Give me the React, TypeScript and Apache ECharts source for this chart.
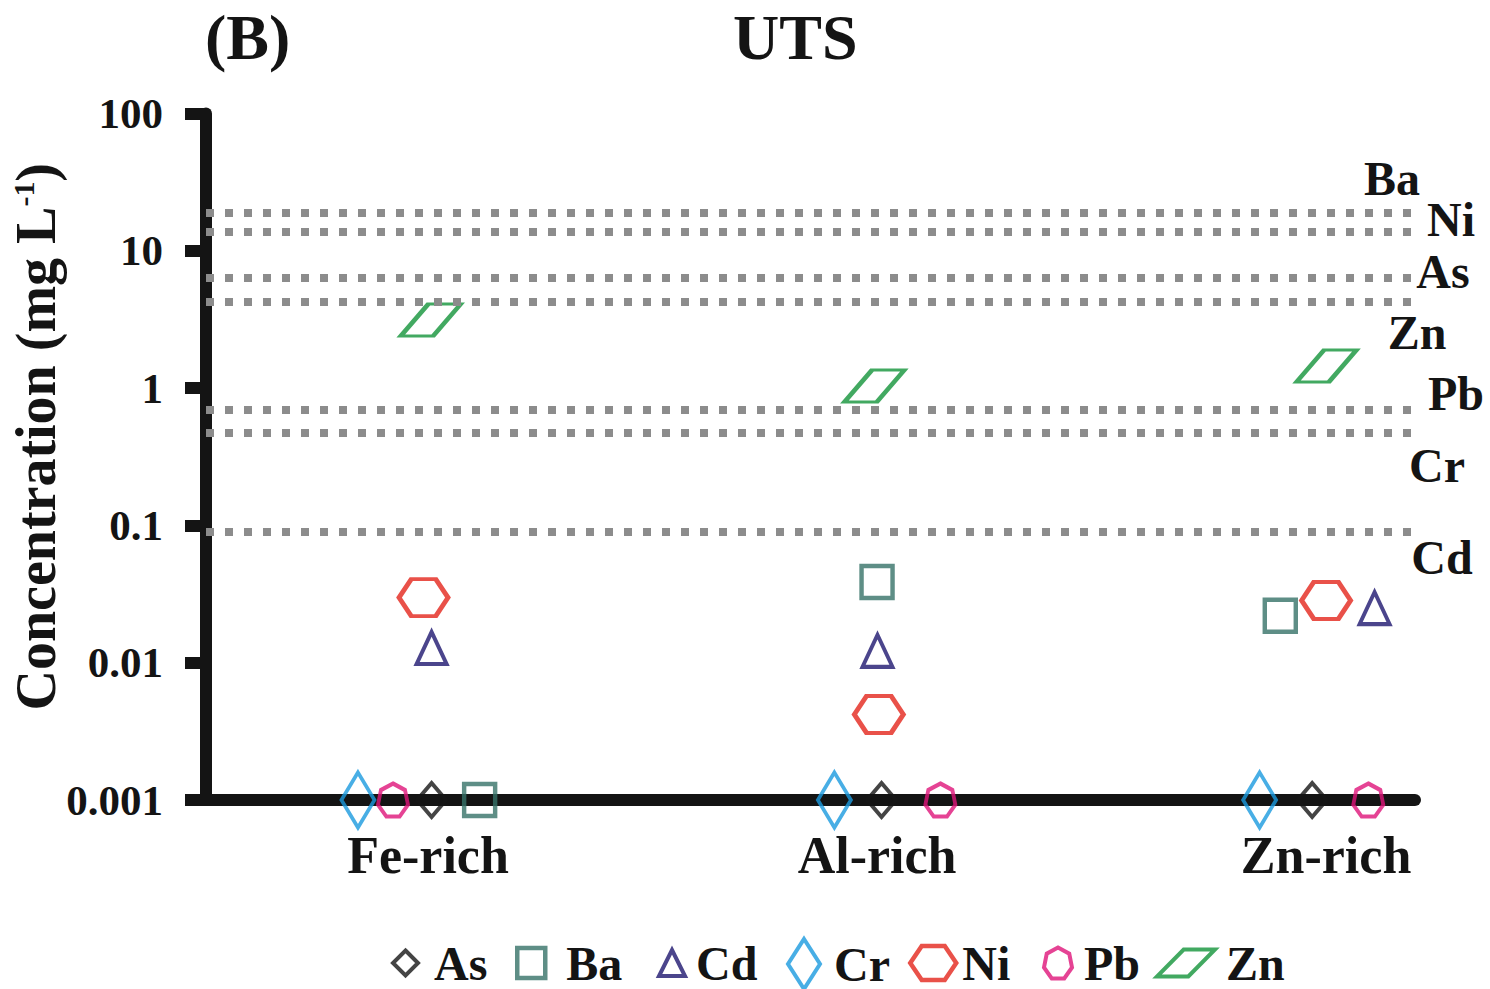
import React, { useEffect, useRef } from "react";
import * as echarts from "echarts";

const categories = ["Fe-rich", "Al-rich", "Zn-rich"];
const yTickLabels = ["0.001", "0.01", "0.1", "1", "10", "100"];

// concentrations (mg/L) per category: Fe-rich, Al-rich, Zn-rich
const asValues = [0.001, 0.001, 0.001];
const baValues = [0.001, 0.0387, 0.022];
const cdValues = [0.0128, 0.0122, 0.025];
const crValues = [0.001, 0.001, 0.001];
const niValues = [0.0298, 0.0042, 0.0284];
const pbValues = [0.001, 0.001, 0.001];
const znValues = [3.13, 1.035, 1.45];

// horizontal jitter within a category (fraction of category spacing)
const asOffset = [0.008, 0.01, -0.031];
const baOffset = [0.115, 0.0, -0.102];
const cdOffset = [0.008, 0.001, 0.108];
const crOffset = [-0.156, -0.095, -0.148];
const niOffset = [-0.01, 0.004, 0.0];
const pbOffset = [-0.078, 0.141, 0.094];
const znOffset = [0.006, -0.006, 0.001];

// UTS limits (mg/L)
const utsLimitNames = ["Ba", "Ni", "As", "Zn", "Pb", "Cr", "Cd"];
const utsLimitValues = [18.9, 13.8, 6.35, 4.25, 0.7, 0.47, 0.093];

const FONT = "'Liberation Serif', 'Times New Roman', Times, serif";
const INK = "#141414";

const HEX = "path://M25 0 L75 0 L100 50 L75 100 L25 100 L0 50 Z";
const HEPT =
  "path://M50 0 L89.1 18.8 L98.7 61.1 L71.7 95 L28.3 95 L1.3 61.1 L10.9 18.8 Z";
const PARA = "path://M46 0 L100 0 L54 100 L0 100 Z";

type Spec = {
  name: string;
  values: number[];
  offsets: number[];
  symbol: string;
  size: number[];
  color: string;
  bw: number;
  lg: { left: number; w: number; h: number; pad: number };
};

const specs: Spec[] = [
  { name: "As", values: asValues, offsets: asOffset, symbol: "diamond", size: [29, 34], color: "#151515", bw: 4, lg: { left: 391, w: 25, h: 25, pad: 11 } },
  { name: "Ba", values: baValues, offsets: baOffset, symbol: "rect", size: [31, 32], color: "#367268", bw: 4.5, lg: { left: 515, w: 28, h: 30, pad: 16 } },
  { name: "Cd", values: cdValues, offsets: cdOffset, symbol: "triangle", size: [30, 32], color: "#1e176f", bw: 4, lg: { left: 657, w: 26, h: 26, pad: 6 } },
  { name: "Cr", values: crValues, offsets: crOffset, symbol: "diamond", size: [33, 55], color: "#1a9ade", bw: 4, lg: { left: 786, w: 32, h: 50, pad: 9 } },
  { name: "Ni", values: niValues, offsets: niOffset, symbol: HEX, size: [49, 37], color: "#e3261c", bw: 4.5, lg: { left: 908, w: 46, h: 34, pad: 1 } },
  { name: "Pb", values: pbValues, offsets: pbOffset, symbol: HEPT, size: [30, 33], color: "#df1479", bw: 4, lg: { left: 1042, w: 28, h: 31, pad: 7 } },
  { name: "Zn", values: znValues, offsets: znOffset, symbol: PARA, size: [60, 32], color: "#13933a", bw: 4, lg: { left: 1155, w: 58, h: 27, pad: 6 } },
];

const LEGEND_CY = 962;
const LEGEND_TEXT_H = 46;

const rightLabelPos: Record<string, [number, number]> = {
  Ba: [1392, 178],
  Ni: [1451, 219],
  As: [1443, 271],
  Zn: [1417, 332],
  Pb: [1456, 393],
  Cr: [1437, 465],
  Cd: [1442, 557],
};

export default function App() {
  const ref = useRef<HTMLDivElement>(null);
  useEffect(() => {
    if (!ref.current) return;
    const chart = echarts.init(ref.current, undefined, { renderer: "svg" });

    const series: any[] = specs.map((s) => ({
      name: s.name,
      type: "scatter",
      data: s.values.map((v, i) => [i + 1 + s.offsets[i], v]),
      symbol: s.symbol,
      symbolSize: s.size,
      clip: false,
      itemStyle: { color: "rgba(0,0,0,0)", borderColor: s.color, borderWidth: s.bw },
      z: 3,
    }));
    series.push({
      name: "UTS limits",
      type: "scatter",
      data: [],
      markLine: {
        silent: true,
        symbol: "none",
        label: { show: false },
        lineStyle: { color: "#8c8c8c", width: 8, type: [8, 11], cap: "butt" },
        data: utsLimitValues.map((v) => ({ yAxis: v })),
      },
    });

    const legends = specs.map((s) => ({
      data: [s.name],
      left: s.lg.left,
      top: LEGEND_CY - Math.max(s.lg.h, LEGEND_TEXT_H) / 2,
      orient: "horizontal",
      padding: 0,
      itemWidth: s.lg.w,
      itemHeight: s.lg.h,
      icon: s.symbol,
      symbolKeepAspect: false,
      itemStyle: { borderWidth: s.bw, borderColor: s.color, color: "rgba(0,0,0,0)" },
      textStyle: {
        fontFamily: FONT,
        fontWeight: "bold",
        fontSize: 48,
        color: INK,
        padding: [0, 0, 0, s.lg.pad],
      },
    }));

    const graphics = utsLimitNames.map((n) => ({
      type: "text",
      x: rightLabelPos[n][0],
      y: rightLabelPos[n][1],
      style: {
        text: n,
        fill: INK,
        fontFamily: FONT,
        fontWeight: "bold",
        fontSize: 48,
        align: "center",
        verticalAlign: "middle",
      },
    }));

    chart.setOption({
      animation: false,
      backgroundColor: "#ffffff",
      title: [
        { text: "(B)", left: 200, top: 0, textStyle: { fontFamily: FONT, fontWeight: "bold", fontSize: 64, color: INK } },
        { text: "UTS", left: 728, top: 0, textStyle: { fontFamily: FONT, fontWeight: "bold", fontSize: 64, color: INK } },
      ],
      legend: legends,
      grid: { left: 206, right: 75, top: 113.5, bottom: 189, outerBoundsMode: "none", containLabel: false },
      xAxis: {
        type: "value",
        min: 0.5056,
        max: 3.198,
        axisLine: { show: true, lineStyle: { color: INK, width: 12 } },
        axisTick: { show: false },
        splitLine: { show: false },
        axisLabel: {
          customValues: [1, 2, 3],
          formatter: (v: number) => categories[Math.round(v) - 1] ?? "",
          margin: 29,
          fontFamily: FONT,
          fontWeight: "bold",
          fontSize: 52,
          color: INK,
        },
      },
      yAxis: {
        type: "log",
        logBase: 10,
        min: 0.001,
        max: 100,
        axisLine: { show: true, lineStyle: { color: INK, width: 12 } },
        axisTick: { show: true, length: 21, lineStyle: { color: INK, width: 12 } },
        minorTick: { show: false },
        splitLine: { show: false },
        axisLabel: {
          margin: 43,
          fontFamily: FONT,
          fontWeight: "bold",
          fontSize: 43,
          color: INK,
          formatter: (v: number) => yTickLabels[Math.round(Math.log10(v)) + 3] ?? "",
        },
        name: "{a|Concentration (mg L}{s|-1}{a|)}",
        nameLocation: "middle",
        nameRotate: 90,
        nameGap: 142,
        nameMoveOverlap: false,
        nameTextStyle: {
          fontFamily: FONT,
          fontWeight: "bold",
          fontSize: 56,
          color: INK,
          padding: [0, 0, 0, 40],
          rich: {
            a: { fontFamily: FONT, fontWeight: "bold", fontSize: 56, color: INK, lineHeight: 56 },
            s: { fontFamily: FONT, fontWeight: "bold", fontSize: 30, color: INK, verticalAlign: "top", lineHeight: 56 },
          },
        },
      },
      graphic: graphics,
      series,
    });

    return () => chart.dispose();
  }, []);

  return <div ref={ref} style={{ width: 1490, height: 989, position: "absolute", left: 0, top: 0 }} />;
}
